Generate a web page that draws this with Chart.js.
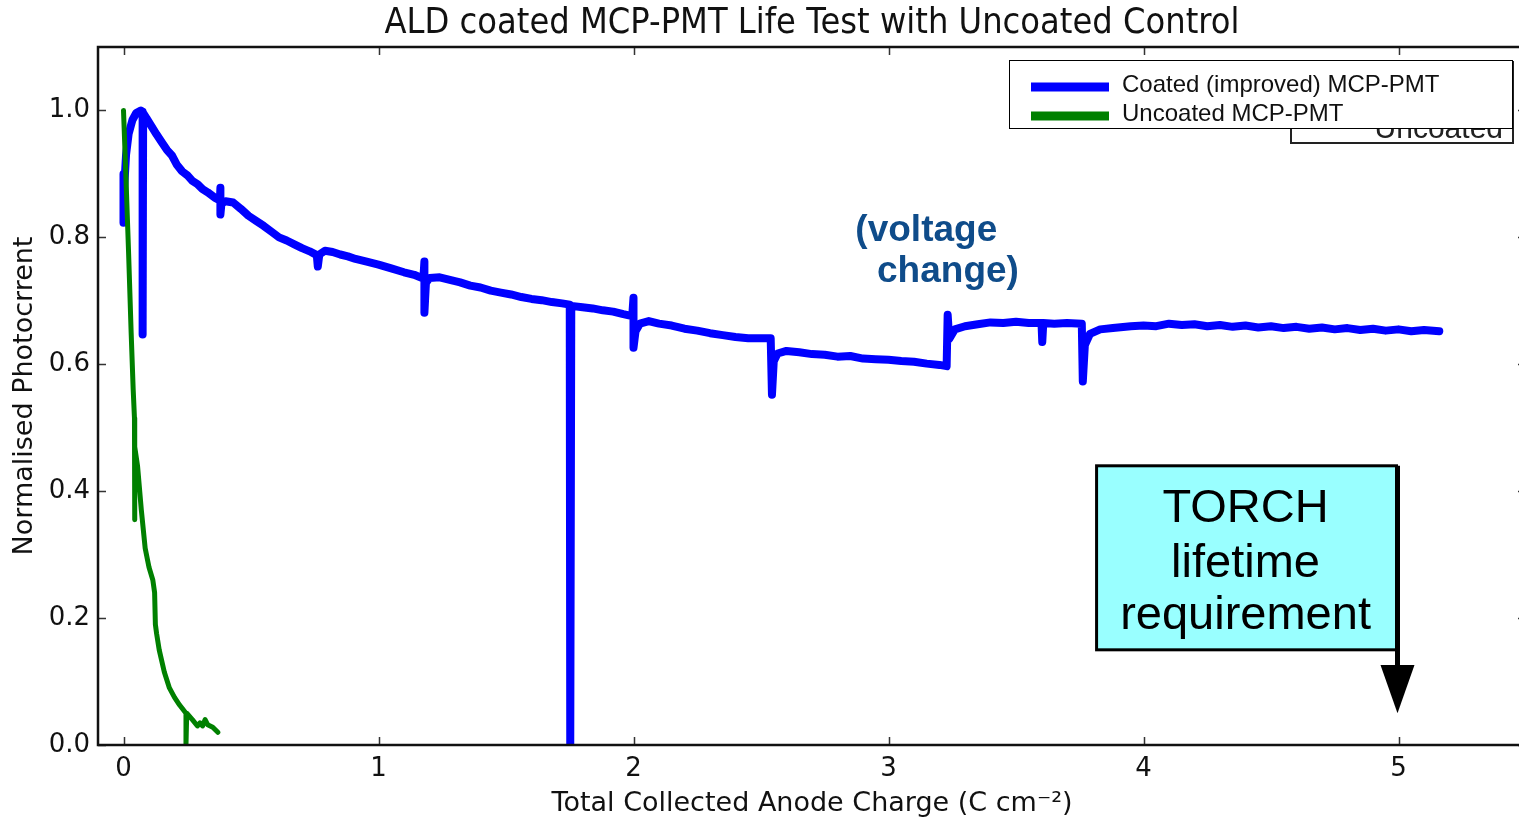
<!DOCTYPE html>
<html>
<head>
<meta charset="utf-8">
<title>ALD coated MCP-PMT Life Test</title>
<script src="https://cdn.jsdelivr.net/npm/chart.js@4.4.1/dist/chart.umd.min.js"></script>
<style>
  html, body { margin: 0; padding: 0; background: #fff; overflow: hidden; }
</style>
</head>
<body>
<canvas id="chart" width="1530" height="820"></canvas>
<script>
// coated tube: collected charge (C/cm2) vs normalised photocurrent
var coatedX = [0.000, 0.000, 0.003, 0.010, 0.020, 0.035, 0.050, 0.068, 0.075, 0.075, 0.077, 0.090, 0.110, 0.130, 0.150, 0.170, 0.190, 0.210, 0.230, 0.250,
  0.270, 0.290, 0.310, 0.330, 0.360, 0.378, 0.380, 0.380, 0.384, 0.400, 0.430, 0.460, 0.490, 0.520, 0.550, 0.580, 0.610, 0.640, 0.670, 0.700,
  0.730, 0.758, 0.762, 0.768, 0.790, 0.820, 0.850, 0.880, 0.910, 0.950, 1.000, 1.050, 1.100, 1.140, 1.176, 1.180, 1.180, 1.186, 1.200, 1.240,
  1.280, 1.320, 1.360, 1.400, 1.440, 1.480, 1.520, 1.560, 1.600, 1.640, 1.680, 1.720, 1.750, 1.752, 1.756, 1.800, 1.840, 1.880, 1.920, 1.960,
  1.995, 2.000, 2.000, 2.008, 2.025, 2.060, 2.100, 2.150, 2.200, 2.250, 2.300, 2.350, 2.400, 2.450, 2.500, 2.538, 2.543, 2.550, 2.565, 2.600,
  2.650, 2.700, 2.750, 2.800, 2.850, 2.900, 2.950, 3.000, 3.050, 3.100, 3.150, 3.200, 3.228, 3.232, 3.238, 3.260, 3.300, 3.350, 3.400, 3.450,
  3.500, 3.550, 3.600, 3.603, 3.607, 3.650, 3.700, 3.758, 3.762, 3.770, 3.790, 3.830, 3.880, 3.950, 4.000, 4.050, 4.100, 4.150, 4.200, 4.250,
  4.300, 4.350, 4.400, 4.450, 4.500, 4.550, 4.600, 4.650, 4.700, 4.750, 4.800, 4.850, 4.900, 4.950, 5.000, 5.050, 5.100, 5.160];
var coatedY = [0.900, 0.823, 0.880, 0.930, 0.963, 0.985, 0.996, 1.000, 0.998, 0.647, 0.996, 0.988, 0.975, 0.962, 0.950, 0.938, 0.929, 0.914, 0.904, 0.898,
  0.889, 0.884, 0.876, 0.871, 0.862, 0.858, 0.878, 0.836, 0.853, 0.857, 0.855, 0.845, 0.834, 0.826, 0.818, 0.809, 0.800, 0.795, 0.789, 0.783,
  0.778, 0.772, 0.754, 0.773, 0.779, 0.777, 0.773, 0.770, 0.766, 0.762, 0.757, 0.751, 0.745, 0.741, 0.735, 0.762, 0.681, 0.728, 0.736, 0.737,
  0.733, 0.729, 0.724, 0.721, 0.716, 0.713, 0.710, 0.706, 0.703, 0.701, 0.698, 0.696, 0.694, 0.000, 0.692, 0.690, 0.688, 0.685, 0.683, 0.679,
  0.676, 0.705, 0.626, 0.652, 0.664, 0.668, 0.664, 0.661, 0.656, 0.653, 0.649, 0.646, 0.643, 0.641, 0.641, 0.641, 0.552, 0.605, 0.617, 0.621,
  0.619, 0.616, 0.615, 0.612, 0.613, 0.609, 0.608, 0.607, 0.605, 0.604, 0.601, 0.599, 0.597, 0.678, 0.640, 0.655, 0.660, 0.663, 0.666, 0.665,
  0.667, 0.665, 0.665, 0.635, 0.665, 0.664, 0.665, 0.664, 0.573, 0.630, 0.648, 0.655, 0.657, 0.660, 0.661, 0.660, 0.664, 0.662, 0.663, 0.660,
  0.662, 0.659, 0.661, 0.658, 0.660, 0.657, 0.659, 0.656, 0.658, 0.655, 0.657, 0.654, 0.656, 0.653, 0.655, 0.652, 0.654, 0.652];

// uncoated control tube
var uncoatedX = [0.000, 0.010, 0.020, 0.030, 0.038, 0.043, 0.043, 0.045, 0.055, 0.070, 0.085, 0.100, 0.115, 0.122, 0.125, 0.130, 0.140, 0.160,
  0.180, 0.200, 0.220, 0.245, 0.245, 0.248, 0.270, 0.290, 0.300, 0.310, 0.320, 0.330, 0.350, 0.370];
var uncoatedY = [1.000, 0.890, 0.775, 0.650, 0.560, 0.515, 0.355, 0.470, 0.440, 0.370, 0.310, 0.280, 0.260, 0.240, 0.190, 0.175, 0.150, 0.115,
  0.090, 0.075, 0.063, 0.050, 0.000, 0.050, 0.040, 0.030, 0.035, 0.030, 0.040, 0.032, 0.028, 0.020];

var xTicks = [0, 1, 2, 3, 4, 5];
var yTicks = [0.0, 0.2, 0.4, 0.6, 0.8, 1.0];
var seriesNames = ["Coated (improved) MCP-PMT", "Uncoated MCP-PMT"];
var seriesColors = ["#0000ff", "#008000"];

function toPoints(xs, ys) {
  var pts = [];
  for (var i = 0; i < xs.length; i++) {
    pts.push({ x: xs[i], y: ys[i] });
  }
  return pts;
}

// frame + inward ticks on all four sides, like the matplotlib default
var framePlugin = {
  id: "frame",
  afterDatasetsDraw: function (chart) {
    var ctx = chart.ctx;
    var a = chart.chartArea;
    var xs = chart.scales.x, ys = chart.scales.y;
    ctx.save();
    ctx.strokeStyle = "#333";
    ctx.lineWidth = 1.5;
    ctx.beginPath();
    xTicks.forEach(function (v) {
      var px = Math.round(xs.getPixelForValue(v)) + 0.5;
      ctx.moveTo(px, a.bottom); ctx.lineTo(px, a.bottom - 8);
      ctx.moveTo(px, a.top); ctx.lineTo(px, a.top + 8);
    });
    yTicks.forEach(function (v) {
      var py = Math.round(ys.getPixelForValue(v)) + 0.5;
      ctx.moveTo(a.left, py); ctx.lineTo(a.left + 8, py);
      ctx.moveTo(a.right, py); ctx.lineTo(a.right - 8, py);
    });
    ctx.stroke();
    ctx.strokeStyle = "#111";
    ctx.lineWidth = 2.5;
    ctx.strokeRect(a.left, a.top, a.right - a.left, a.bottom - a.top);
    ctx.restore();
  }
};

var notePlugin = {
  id: "notes",
  afterDraw: function (chart) {
    var ctx = chart.ctx;
    var a = chart.chartArea;
    var xs = chart.scales.x, ys = chart.scales.y;
    ctx.save();

    // title, squeezed a little sideways
    var title = "ALD coated MCP-PMT Life Test with Uncoated Control";
    ctx.fillStyle = "#111";
    ctx.font = "35px 'DejaVu Sans'";
    ctx.textAlign = "center";
    ctx.textBaseline = "middle";
    var sx = 855 / ctx.measureText(title).width;
    ctx.save();
    ctx.translate((a.left + a.right) / 2, 24);
    ctx.scale(sx, 1);
    ctx.fillText(title, 0, 0);
    ctx.restore();

    // (voltage change)
    ctx.fillStyle = "#0f4c8a";
    ctx.font = "bold 37px 'Liberation Sans'";
    ctx.textAlign = "left";
    ctx.textBaseline = "alphabetic";
    ctx.fillText("(voltage", xs.getPixelForValue(2.87), ys.getPixelForValue(0.795));
    ctx.fillText("change)", xs.getPixelForValue(2.955), ys.getPixelForValue(0.729));

    // TORCH requirement box with arrow down onto 5 C/cm2
    var bx0 = xs.getPixelForValue(3.816);
    var bx1 = xs.getPixelForValue(5.0);
    var by0 = ys.getPixelForValue(0.44);
    var by1 = ys.getPixelForValue(0.15);
    ctx.fillStyle = "#99ffff";
    ctx.fillRect(bx0, by0, bx1 - bx0, by1 - by0);
    ctx.strokeStyle = "#000";
    ctx.lineWidth = 3;
    ctx.strokeRect(bx0, by0, bx1 - bx0 - 2, by1 - by0);
    var ax = bx1 - 1;
    var baseY = ys.getPixelForValue(0.126);
    var tipY = ys.getPixelForValue(0.05);
    ctx.lineWidth = 5;
    ctx.beginPath();
    ctx.moveTo(ax, by0);
    ctx.lineTo(ax, baseY + 2);
    ctx.stroke();
    ctx.fillStyle = "#000";
    ctx.beginPath();
    ctx.moveTo(ax - 17, baseY);
    ctx.lineTo(ax + 17, baseY);
    ctx.lineTo(ax, tipY);
    ctx.closePath();
    ctx.fill();
    ctx.font = "47px 'Liberation Sans'";
    ctx.textAlign = "center";
    var cx = (bx0 + bx1) / 2 - 2;
    ctx.fillText("TORCH", cx, by0 + 56);
    ctx.fillText("lifetime", cx, by0 + 111);
    ctx.fillText("requirement", cx, by0 + 163);

    // older legend box sitting behind the current one
    ctx.fillStyle = "#fff";
    ctx.fillRect(1291, 62, 222, 81);
    ctx.strokeStyle = "#222";
    ctx.lineWidth = 2;
    ctx.strokeRect(1291, 62, 222, 81);
    ctx.fillStyle = "#222";
    ctx.font = "30px 'Liberation Sans'";
    ctx.textAlign = "right";
    ctx.fillText("Uncoated", 1503, 138);

    // legend
    ctx.fillStyle = "#fff";
    ctx.fillRect(1009, 60, 503, 68);
    ctx.strokeStyle = "#000";
    ctx.lineWidth = 1;
    ctx.strokeRect(1009.5, 60.5, 503, 68);
    ctx.font = "24px 'Liberation Sans'";
    ctx.textAlign = "left";
    ctx.textBaseline = "middle";
    for (var i = 0; i < seriesNames.length; i++) {
      var ly = 87 + i * 29;
      ctx.strokeStyle = seriesColors[i];
      ctx.lineWidth = 9;
      ctx.beginPath();
      ctx.moveTo(1031, ly);
      ctx.lineTo(1109, ly);
      ctx.stroke();
      ctx.fillStyle = "#111";
      ctx.fillText(seriesNames[i], 1122, ly - 2);
    }
    ctx.restore();
  }
};

var chart = new Chart(document.getElementById("chart"), {
  type: "line",
  data: {
    datasets: [{
      label: seriesNames[1],
      data: toPoints(uncoatedX, uncoatedY),
      borderColor: seriesColors[1],
      borderWidth: 5,
      pointRadius: 0,
      tension: 0,
      borderCapStyle: "round",
      borderJoinStyle: "round"
    }, {
      label: seriesNames[0],
      data: toPoints(coatedX, coatedY),
      borderColor: seriesColors[0],
      borderWidth: 8,
      pointRadius: 0,
      tension: 0,
      borderCapStyle: "round",
      borderJoinStyle: "round"
    }]
  },
  options: {
    responsive: false,
    animation: false,
    layout: { padding: { top: 47, right: 4, left: 0, bottom: 0 } },
    plugins: {
      legend: { display: false },
      tooltip: { enabled: false }
    },
    scales: {
      x: {
        type: "linear",
        min: -0.1,
        max: 5.5,
        grid: { display: false, drawTicks: false },
        border: { display: false },
        afterBuildTicks: function (s) { s.ticks = xTicks.map(function (v) { return { value: v }; }); },
        afterFit: function (s) { s.height = 75; },
        ticks: {
          padding: 9,
          color: "#111",
          font: { family: "'DejaVu Sans'", size: 26 },
          callback: function (v) { return String(v); }
        },
        title: {
          display: true,
          text: "Total Collected Anode Charge (C cm\u207B\u00B2)",
          color: "#111",
          font: { family: "'DejaVu Sans'", size: 27 },
          padding: { top: 0, bottom: 0 }
        }
      },
      y: {
        type: "linear",
        min: 0,
        max: 1.1,
        grid: { display: false, drawTicks: false },
        border: { display: false },
        afterBuildTicks: function (s) { s.ticks = yTicks.map(function (v) { return { value: v }; }); },
        afterFit: function (s) { s.width = 98; },
        ticks: {
          padding: 8,
          color: "#111",
          font: { family: "'DejaVu Sans'", size: 26 },
          callback: function (v) { return Number(v).toFixed(1); }
        },
        title: {
          display: true,
          text: "Normalised Photocrrent",
          color: "#111",
          font: { family: "'DejaVu Sans'", size: 27 },
          padding: { top: 9, bottom: 0 }
        }
      }
    }
  },
  plugins: [framePlugin, notePlugin]
});
</script>
</body>
</html>
